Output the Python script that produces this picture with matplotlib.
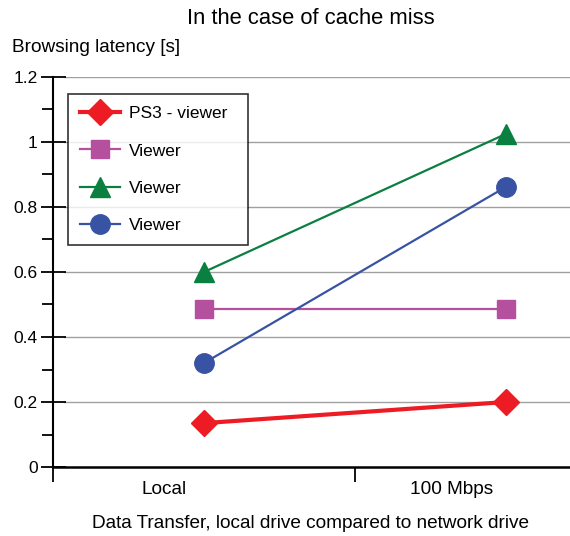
import numpy as np
import matplotlib
matplotlib.use("Agg")
import matplotlib.pyplot as plt
from matplotlib.ticker import MultipleLocator

plt.rcParams['font.family'] = ['Liberation Sans', 'DejaVu Sans']

# data
categories = ['Local', '100 Mbps']
cat_x = [0.5, 1.5]
label_x = [0.368, 1.321]   # category labels sit left of the points in the original
series_names = ['PS3 - viewer', 'Viewer', 'Viewer', 'Viewer']
ps3 = [0.135, 0.20]
viewer_a = [0.486, 0.486]
viewer_b = [0.60, 1.025]
viewer_c = [0.32, 0.862]

fig = plt.figure(figsize=(5.70, 5.36), dpi=100)
ax = fig.add_axes([53/570, 69/536, 517/570, 390/536])

# grid lines start a bit right of the axis, like the original
for g in np.arange(0.2, 1.21, 0.2):
    ax.axhline(g, xmin=11/517, xmax=1, color='#a0a0a0', lw=1.0, zorder=1)

ax.plot(cat_x, ps3, color='#ed1c24', lw=3, marker='D', ms=13, label=series_names[0], zorder=5)
ax.plot(cat_x, viewer_a, color='#b5509f', lw=1.6, marker='s', ms=13, label=series_names[1], zorder=4)
ax.plot(cat_x, viewer_b, color='#0a8040', lw=1.6, marker='^', ms=15, label=series_names[2], zorder=4)
ax.plot(cat_x, viewer_c, color='#3953a4', lw=1.6, marker='o', ms=14, label=series_names[3], zorder=4)

for s in ['top', 'right']:
    ax.spines[s].set_visible(False)
ax.spines['left'].set_linewidth(1.5)
ax.spines['bottom'].set_linewidth(1.8)

ax.set_yticks(np.arange(0, 1.21, 0.2))
ax.set_yticklabels(['0', '0.2', '0.4', '0.6', '0.8', '1', '1.2'], fontsize=12.5)
ax.yaxis.set_minor_locator(MultipleLocator(0.1))
ax.tick_params(axis='y', which='major', direction='inout', length=18, width=1.3, pad=2)
ax.tick_params(axis='y', which='minor', direction='out', length=8, width=1.3)

ax.set_xticks([0, 1, 2])
ax.set_xticklabels(['', '', ''])
ax.tick_params(axis='x', which='major', direction='out', length=11, width=1.3)
ax.set_xticks(label_x, minor=True)
ax.set_xticklabels(categories, minor=True, fontsize=13.7)
ax.tick_params(axis='x', which='minor', length=0, pad=10)

ax.set_xlim(0, 517/302)
ax.set_ylim(0, 1.2)

fig.text(311/570, 1 - 18/536, 'In the case of cache miss', ha='center', va='center', fontsize=15.8)
fig.text(12/570, 1 - 47/536, 'Browsing latency [s]', ha='left', va='center', fontsize=13.7)
fig.text(311/570, 1 - 523/536, 'Data Transfer, local drive compared to network drive',
         ha='center', va='center', fontsize=13.7)

# legend box spans x 68..248 px, top at ~93 px in the original
leg_h = 150/390
leg = ax.legend(loc='upper left', bbox_to_anchor=(15/517, (467 - 94)/390 - leg_h, 180/517, leg_h),
                mode='expand', fontsize=12.5,
                frameon=True, fancybox=False, edgecolor='black', handlelength=2.3,
                labelspacing=1.27, borderpad=0.7, handletextpad=0.5, borderaxespad=0)
leg.get_frame().set_linewidth(1.2)

fig.savefig('out.png', dpi=100)
